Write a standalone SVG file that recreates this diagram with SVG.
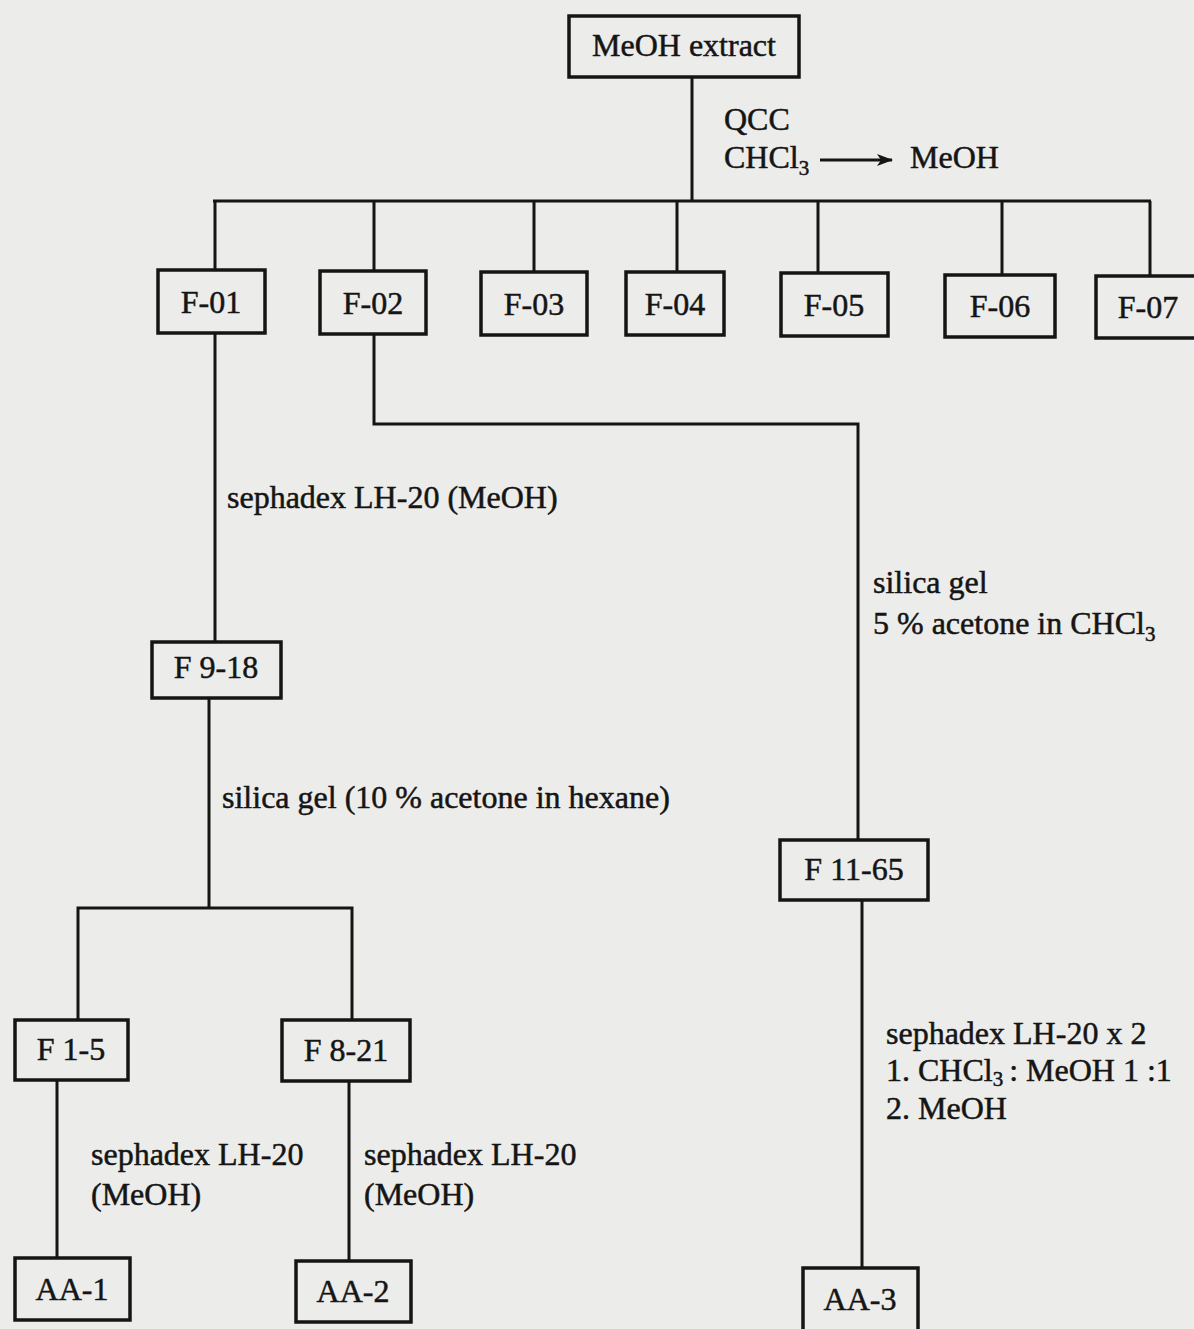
<svg xmlns="http://www.w3.org/2000/svg" width="1194" height="1329" viewBox="0 0 1194 1329">
<style>
  .bg { fill: #ececea; }
  .box { fill: none; stroke: #151515; stroke-width: 3.5; }
  .ln { fill: none; stroke: #151515; stroke-width: 3; }
  text { font-family: "Liberation Serif", "Times New Roman", serif; font-size: 32px; fill: #151515; stroke: #151515; stroke-width: 0.5; }
  .c { text-anchor: middle; }
  .sub { font-size: 21px; }
</style>
<defs>
  <marker id="ah" markerWidth="16" markerHeight="12" refX="15" refY="6" orient="auto" markerUnits="userSpaceOnUse">
    <path d="M0,0 L16,6 L0,12 L4,6 Z" fill="#151515"/>
  </marker>
</defs>
<rect class="bg" x="0" y="0" width="1194" height="1329"/>

<g id="connectors">
  <path class="ln" d="M692,77 V201"/>
  <path class="ln" d="M213,201 H1151"/>
  <path class="ln" d="M215,201 V270"/>
  <path class="ln" d="M374,201 V271"/>
  <path class="ln" d="M534,201 V272"/>
  <path class="ln" d="M677,201 V272"/>
  <path class="ln" d="M818,201 V273"/>
  <path class="ln" d="M1002,201 V275"/>
  <path class="ln" d="M1150,201 V276"/>
  <path class="ln" d="M215,333 V642"/>
  <path class="ln" d="M374,334 V424 H858 V840"/>
  <path class="ln" d="M209,698 V908"/>
  <path class="ln" d="M78,1020 V908 H352 V1020"/>
  <path class="ln" d="M57,1080 V1258"/>
  <path class="ln" d="M349,1081 V1261"/>
  <path class="ln" d="M862,900 V1268"/>
  <path class="ln" d="M820,160 H892" stroke-width="2.5" marker-end="url(#ah)"/>
</g>

<g id="labels">
  <text x="724" y="130">QCC</text>
  <text x="724" y="168">CHCl<tspan class="sub" dy="7">3</tspan></text>
  <text x="910" y="168">MeOH</text>
  <text x="227" y="508">sephadex LH-20 (MeOH)</text>
  <text x="873" y="593">silica gel</text>
  <text x="873" y="634">5 % acetone in CHCl<tspan class="sub" dy="7">3</tspan></text>
  <text x="222" y="808">silica gel (10 % acetone in hexane)</text>
  <text x="91" y="1165">sephadex LH-20</text>
  <text x="91" y="1205">(MeOH)</text>
  <text x="364" y="1165">sephadex LH-20</text>
  <text x="364" y="1205">(MeOH)</text>
  <text x="886" y="1044">sephadex LH-20 x 2</text>
  <text x="886" y="1081">1. CHCl<tspan class="sub" dy="5">3</tspan><tspan dx="6" dy="-5">: MeOH 1 :1</tspan></text>
  <text x="886" y="1119">2. MeOH</text>
</g>

<g id="n-meoh-extract"><rect class="box" x="569" y="16" width="230" height="61"/><text class="c" x="684" y="56">MeOH extract</text></g>
<g id="n-f01"><rect class="box" x="158" y="270" width="107" height="63"/><text class="c" x="211" y="313">F-01</text></g>
<g id="n-f02"><rect class="box" x="320" y="271" width="106" height="63"/><text class="c" x="373" y="314">F-02</text></g>
<g id="n-f03"><rect class="box" x="481" y="272" width="106" height="63"/><text class="c" x="534" y="315">F-03</text></g>
<g id="n-f04"><rect class="box" x="626" y="272" width="98" height="63"/><text class="c" x="675" y="315">F-04</text></g>
<g id="n-f05"><rect class="box" x="781" y="273" width="107" height="63"/><text class="c" x="834" y="316">F-05</text></g>
<g id="n-f06"><rect class="box" x="945" y="275" width="110" height="62"/><text class="c" x="1000" y="317">F-06</text></g>
<g id="n-f07"><rect class="box" x="1096" y="276" width="110" height="62"/><text class="c" x="1148" y="318">F-07</text></g>
<g id="n-f9-18"><rect class="box" x="152" y="642" width="129" height="56"/><text class="c" x="216" y="678">F 9-18</text></g>
<g id="n-f11-65"><rect class="box" x="780" y="840" width="148" height="60"/><text class="c" x="854" y="880">F 11-65</text></g>
<g id="n-f1-5"><rect class="box" x="15" y="1020" width="113" height="60"/><text class="c" x="71" y="1060">F 1-5</text></g>
<g id="n-f8-21"><rect class="box" x="282" y="1020" width="128" height="61"/><text class="c" x="346" y="1061">F 8-21</text></g>
<g id="n-aa1"><rect class="box" x="15" y="1258" width="115" height="62"/><text class="c" x="72" y="1300">AA-1</text></g>
<g id="n-aa2"><rect class="box" x="296" y="1261" width="115" height="61"/><text class="c" x="353" y="1302">AA-2</text></g>
<g id="n-aa3"><rect class="box" x="803" y="1268" width="115" height="70"/><text class="c" x="860" y="1310">AA-3</text></g>
</svg>
